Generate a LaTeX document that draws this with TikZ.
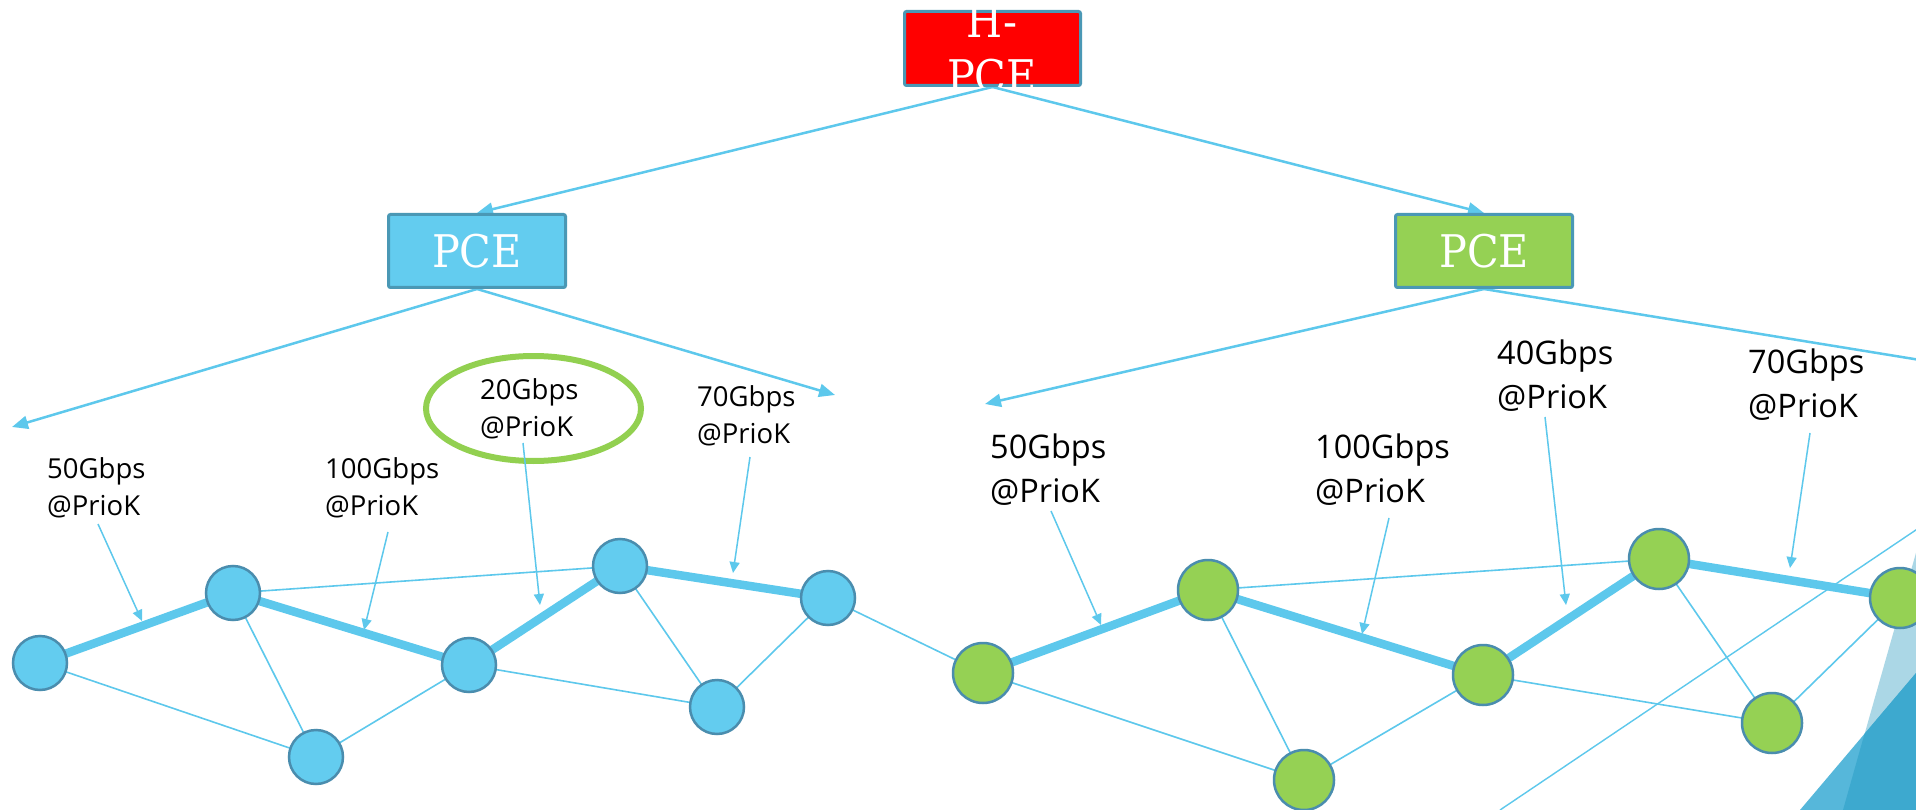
\documentclass[tikz,border=0pt]{standalone}
\usepackage{fontspec}
\setmainfont{Open Sans}
\newfontfamily\slabfont[FakeStretch=0.92]{DejaVu Serif}
\usetikzlibrary{arrows.meta}
\definecolor{lineblue}{HTML}{5DC8EC}
\definecolor{nodeblue}{HTML}{63CCEF}
\definecolor{nodegreen}{HTML}{95D154}
\definecolor{ringcol}{HTML}{4A8DAE}
\definecolor{boxborder}{HTML}{4A98B5}
\definecolor{pcered}{HTML}{FF0000}
\definecolor{ovalgreen}{HTML}{92D050}
\definecolor{wedgelight}{HTML}{ABD7E6}
\definecolor{wedgemid}{HTML}{56B7DA}
\definecolor{wedgedark}{HTML}{3DA9CF}
\pgfdeclarelayer{deco}
\pgfdeclarelayer{edges}
\pgfsetlayers{deco,edges,main}
\begin{document}
\begin{tikzpicture}[x=1pt,y=-1pt,
  pcebox/.style={draw=boxborder, line width=3pt, rounded corners=2pt, inner sep=0pt,
    minimum width=177pt, minimum height=73pt, text=white,
    font=\slabfont\fontsize{45}{55}\selectfont},
  bnode/.style={circle, draw=ringcol, line width=2.5pt, fill=nodeblue, minimum size=54pt, inner sep=0pt},
  gnode/.style={circle, draw=ringcol, line width=2.5pt, fill=nodegreen, minimum size=60pt, inner sep=0pt},
  thinlink/.style={lineblue, line width=1.6pt},
  fatlink/.style={lineblue, line width=8.5pt},
  treearrow/.style={lineblue, line width=2.5pt, -{Triangle[length=16pt,width=13pt]}},
  annot/.style={lineblue, line width=1.5pt, -{Triangle[length=11pt,width=10pt]}},
  lblsmall/.style={anchor=base west, inner sep=0pt, align=left, font=\fontsize{27.5}{37}\selectfont},
  lblbig/.style={anchor=base west, inner sep=0pt, align=left, font=\fontsize{32.5}{43.5}\selectfont}]
\useasboundingbox (0,0) rectangle (1916,810);
\clip (0,0) rectangle (1916,810);

% background decoration
\begin{pgfonlayer}{deco}
\fill[white] (0,0) rectangle (1916,810);
\fill[wedgelight] (1916.5,551) -- (1843,810) -- (1925,810) -- (1925,551) -- cycle;
\fill[wedgemid] (1800,810) -- (1916,673) -- (1925,662) -- (1925,810) -- cycle;
\fill[wedgedark] (1864.5,733.8) -- (1916,673) -- (1925,662) -- (1925,810) -- (1843,810) -- cycle;
\end{pgfonlayer}

% boxes
\node[pcebox, fill=pcered, minimum width=176pt, minimum height=74pt] (H) at (992.5,48.5) {};
\begin{scope}
\clip (903,0) rectangle (1082,87);
\node[anchor=base, inner sep=0pt, align=center, text=white,
  font=\slabfont\fontsize{45}{55}\selectfont] (Htxt) at (992,93) {H-\\PCE};
\end{scope}
\node[pcebox, fill=nodeblue] (PL) at (477,251) {PCE};
\node[pcebox, fill=nodegreen] (PR) at (1484,251) {PCE};

% network nodes
\node[bnode] (B1) at (40,663) {};
\node[bnode] (B2) at (233,593) {};
\node[bnode] (B3) at (316,757) {};
\node[bnode] (B4) at (469,665) {};
\node[bnode] (B5) at (620,566) {};
\node[bnode] (B6) at (828,598) {};
\node[bnode] (B7) at (717,707) {};
\node[gnode] (G1) at (983,673) {};
\node[gnode] (G2) at (1208,590) {};
\node[gnode] (G3) at (1304,780) {};
\node[gnode] (G4) at (1483,675) {};
\node[gnode] (G5) at (1659,559) {};
\node[gnode] (G6) at (1900,598) {};
\node[gnode] (G7) at (1772,723) {};

% free ends
\coordinate (PLa) at (12,427);
\coordinate (PLb) at (835,395);
\coordinate (PRa) at (985,404);
\coordinate (PRb) at (2000,373);
\coordinate (DiagA) at (1500,810);
\coordinate (DiagB) at (1950,507);

\begin{pgfonlayer}{edges}
% tree arrows
\draw[treearrow] (H.south) -- (PL.north);
\draw[treearrow] (H.south) -- (PR.north);
\draw[treearrow] (PL.south) -- (PLa);
\draw[treearrow] (PL.south) -- (PLb);
\draw[treearrow] (PR.south) -- (PRa);
\draw[treearrow] (PR.south) -- (PRb);
% decoration line
\draw[thinlink, line width=1.4pt] (DiagA) -- (DiagB);
% thin links
\foreach \a/\b in {B1/B3,B2/B3,B3/B4,B2/B5,B4/B7,B5/B7,B7/B6,B6/G1,
                   G1/G3,G2/G3,G3/G4,G2/G5,G4/G7,G5/G7,G7/G6}
  \draw[thinlink] (\a.center) -- (\b.center);
% thick links
\foreach \a/\b in {B1/B2,B2/B4,B4/B5,B5/B6,G1/G2,G2/G4,G4/G5,G5/G6}
  \draw[fatlink] (\a.center) -- (\b.center);
\end{pgfonlayer}

% highlight oval
\draw[ovalgreen, line width=6pt] (533.5,408.5) ellipse [x radius=107.5pt, y radius=52.5pt];

% labels (anchored at the baseline of their second line)
\node[lblsmall] (L50) at (47,515) {50Gbps\\@PrioK};
\node[lblsmall] (L100) at (325,515) {100Gbps\\@PrioK};
\node[lblsmall] (L20) at (480,436) {20Gbps\\@PrioK};
\node[lblsmall] (L70) at (697,443) {70Gbps\\@PrioK};
\node[lblbig] (R50) at (990,502) {50Gbps\\@PrioK};
\node[lblbig] (R100) at (1315,502) {100Gbps\\@PrioK};
\node[lblbig] (R40) at (1497,408) {40Gbps\\@PrioK};
\node[lblbig] (R70) at (1748,417) {70Gbps\\@PrioK};

% annotation arrows
\coordinate (L50s) at (98,524);   \coordinate (L50t) at (142,621);
\coordinate (L100s) at (388,532); \coordinate (L100t) at (364,630);
\coordinate (L20s) at (523,443);  \coordinate (L20t) at (540,605);
\coordinate (L70s) at (750,457);  \coordinate (L70t) at (733,573);
\coordinate (R50s) at (1051,511); \coordinate (R50t) at (1101,625);
\coordinate (R100s) at (1389,518);\coordinate (R100t) at (1362,634);
\coordinate (R40s) at (1545,417); \coordinate (R40t) at (1566,605);
\coordinate (R70s) at (1810,433); \coordinate (R70t) at (1790,568);
\foreach \n in {L50,L100,L20,L70,R50,R100,R40,R70}
  \draw[annot] (\n s) -- (\n t);
\end{tikzpicture}
\end{document}
